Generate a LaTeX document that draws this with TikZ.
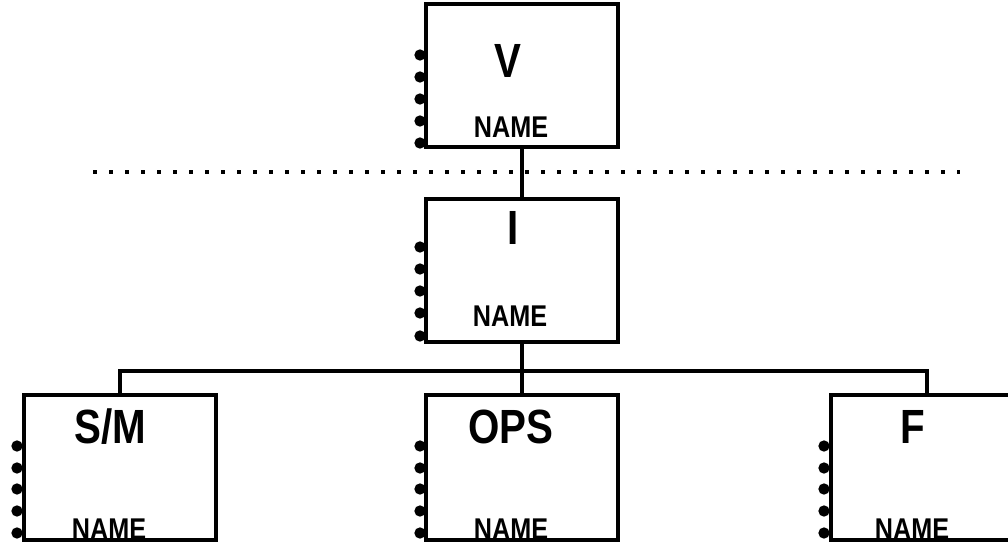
\documentclass[tikz,border=0pt]{standalone}
\usepackage{fontspec}
\setmainfont{Liberation Sans}
\newfontfamily\narrowfont[FakeStretch=0.84]{Liberation Sans}
\begin{document}
\begin{tikzpicture}[x=0.75pt,y=-0.75pt,
  box/.style={draw,line width=2.8pt,rectangle,inner sep=0pt,outer sep=0pt,minimum width=144pt},
  tall/.style={minimum height=107.25pt},
  low/.style={minimum height=108.75pt},
  title/.style={font=\narrowfont\bfseries\fontsize{36}{36}\selectfont,inner sep=0pt,anchor=center},
  lbl/.style={font=\narrowfont\bfseries\fontsize{22.5}{22.5}\selectfont,inner sep=0pt,anchor=center},
  pin/.style={circle,fill=black,inner sep=0pt,minimum size=8.5pt},
  wire/.style={line width=2.8pt},
  sep/.style={line width=3pt,dash pattern=on 3pt off 9pt}]
\useasboundingbox (0,0) rectangle (1008,542);
\clip (0,0) rectangle (1008,542);
% boxes
\node[box,tall] (V) at (522,75.5) {};
\node[box,tall] (I) at (522,270.5) {};
\node[box,low] (SM) at (120,467.5) {};
\node[box,low] (OPS) at (522,467.5) {};
\node[box,low] (F) at (927,467.5) {};
% texts
\node[title] (tV) at (508,61) {V};
\node[lbl] (nV) at (511,127) {NAME};
\node[title] (tI) at (513,228) {I};
\node[lbl] (nI) at (510,316) {NAME};
\node[title] (tSM) at (110,427) {S/M};
\node[lbl] (nSM) at (109,529) {NAME};
\node[title] (tOPS) at (511,427) {OPS};
\node[lbl] (nOPS) at (511,529) {NAME};
\node[title] (tF) at (913,427) {F};
\node[lbl] (nF) at (912,529) {NAME};
% pins
\foreach \y [count=\k] in {55,77,99,121,143} \node[pin] (pV\k) at (420,\y) {};
\foreach \y [count=\k] in {247,269,291,313,336} \node[pin] (pI\k) at (420,\y) {};
\foreach \y [count=\k] in {446,468,489,511,533} {
  \node[pin] (pSM\k) at (17,\y) {};
  \node[pin] (pOPS\k) at (420,\y) {};
  \node[pin] (pF\k) at (824,\y) {};
}
% separator
\coordinate (sL) at (93,172);
\coordinate (sR) at (960,172);
\draw[sep] (sL) -- (sR);
% connectors
\draw[wire] (V.south) -- (I.north);
\coordinate (bus) at (522,371);
\draw[wire] (I.south) -- (bus);
\draw[wire] (SM.north) |- (bus) -| (F.north);
\draw[wire] (bus) -- (OPS.north);
\end{tikzpicture}
\end{document}
